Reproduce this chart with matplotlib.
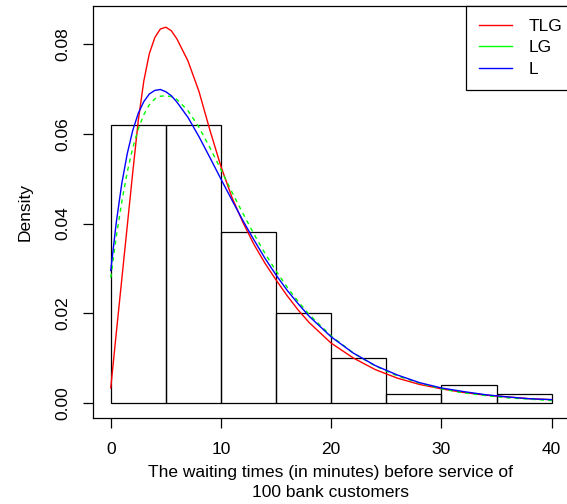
import matplotlib
matplotlib.use("Agg")
import matplotlib.pyplot as plt

plt.rcParams['font.family'] = ['Liberation Sans', 'DejaVu Sans']

# histogram of the waiting times (density scale, bins of 5 minutes)
bin_left = [0, 5, 10, 15, 20, 25, 30, 35]
bin_width = 5
dens = [0.062, 0.062, 0.038, 0.020, 0.010, 0.002, 0.004, 0.002]

# fitted densities
x = [0, 0.5, 1, 1.5, 2, 2.5, 3, 3.5, 4, 4.5, 5, 5.5, 6, 7, 8, 9, 10, 11, 12, 13, 14, 15,
     16, 17, 18, 20, 22, 24, 26, 28, 30, 32, 34, 36, 38, 40]
tlg = [0.0033, 0.0155, 0.0275, 0.0395, 0.0515, 0.0630, 0.0718, 0.0779, 0.0815, 0.0834,
       0.0838, 0.0830, 0.0812, 0.0763, 0.0695, 0.0608, 0.0527, 0.0458, 0.0402, 0.0353,
       0.0311, 0.0274, 0.0239, 0.0207, 0.0179, 0.0133, 0.0100, 0.0074, 0.0055, 0.0041,
       0.0031, 0.0023, 0.0017, 0.0013, 0.0009, 0.0007]
lg = [0.0279, 0.0370, 0.0448, 0.0515, 0.0569, 0.0611, 0.0643, 0.0665, 0.0678, 0.0684,
      0.0685, 0.0683, 0.0677, 0.0652, 0.0615, 0.0569, 0.0520, 0.0470, 0.0422, 0.0376,
      0.0333, 0.0294, 0.0258, 0.0226, 0.0197, 0.0149, 0.0111, 0.0082, 0.0060, 0.0044,
      0.0031, 0.0022, 0.0016, 0.0011, 0.0008, 0.0005]
lind = [0.0295, 0.0402, 0.0489, 0.0556, 0.0608, 0.0646, 0.0672, 0.0689, 0.0697, 0.0699,
        0.0694, 0.0685, 0.0671, 0.0637, 0.0594, 0.0547, 0.0499, 0.0452, 0.0406, 0.0363,
        0.0322, 0.0285, 0.0251, 0.0221, 0.0193, 0.0147, 0.0111, 0.0083, 0.0062, 0.0045,
        0.0033, 0.0025, 0.0018, 0.0013, 0.0009, 0.0007]

xticks = [0, 10, 20, 30, 40]
yticks = [0.00, 0.02, 0.04, 0.06, 0.08]
fs = 12.5

fig = plt.figure(figsize=(5.67, 5.04), dpi=100)
ax = fig.add_axes([0.1642, 0.1706, 0.8399, 0.8181])

ax.bar(bin_left, dens, width=bin_width, align='edge', fill=False,
       edgecolor='black', linewidth=0.9)

ax.plot(x, tlg, color='#FF0000', lw=1.0, label='TLG')
ax.plot(x, lg, color='#00FF00', lw=1.0, dashes=(3, 3), label='LG')
ax.plot(x, lind, color='#0000FF', lw=1.0, label='L')

ax.set_xlim(-1.6, 41.6)
ax.set_ylim(-0.0034, 0.0886)
ax.set_xticks(xticks)
ax.set_xticklabels([str(t) for t in xticks])
ax.set_yticks(yticks)
ax.set_yticklabels(['%.2f' % t for t in yticks], rotation=90, va='center')
ax.tick_params(axis='both', direction='out', length=7, width=0.9, labelsize=fs)
ax.tick_params(axis='x', pad=10)
ax.tick_params(axis='y', pad=9.5)
for s in ax.spines.values():
    s.set_linewidth(0.9)

# legend sticks out past the right edge like in the original
leg = ax.legend(loc='upper right', bbox_to_anchor=(1.012, 1.0), borderaxespad=0,
                fancybox=False, framealpha=1, edgecolor='black', fontsize=fs,
                handlelength=1.87, handletextpad=0.96, labelspacing=0.36, borderpad=0.75)
leg.get_frame().set_linewidth(0.9)
for h in leg.get_lines():
    h.set_linestyle('-')

fig.text(25 / 567, 1 - 212 / 504, 'Density', rotation=90, ha='center', va='center', fontsize=fs)
fig.text(331 / 567, 1 - 476.7 / 504, 'The waiting times (in minutes) before service of',
         ha='center', va='baseline', fontsize=fs)
fig.text(331 / 567, 1 - 497.3 / 504, '100 bank customers',
         ha='center', va='baseline', fontsize=fs)

fig.savefig('out.png', dpi=100)
